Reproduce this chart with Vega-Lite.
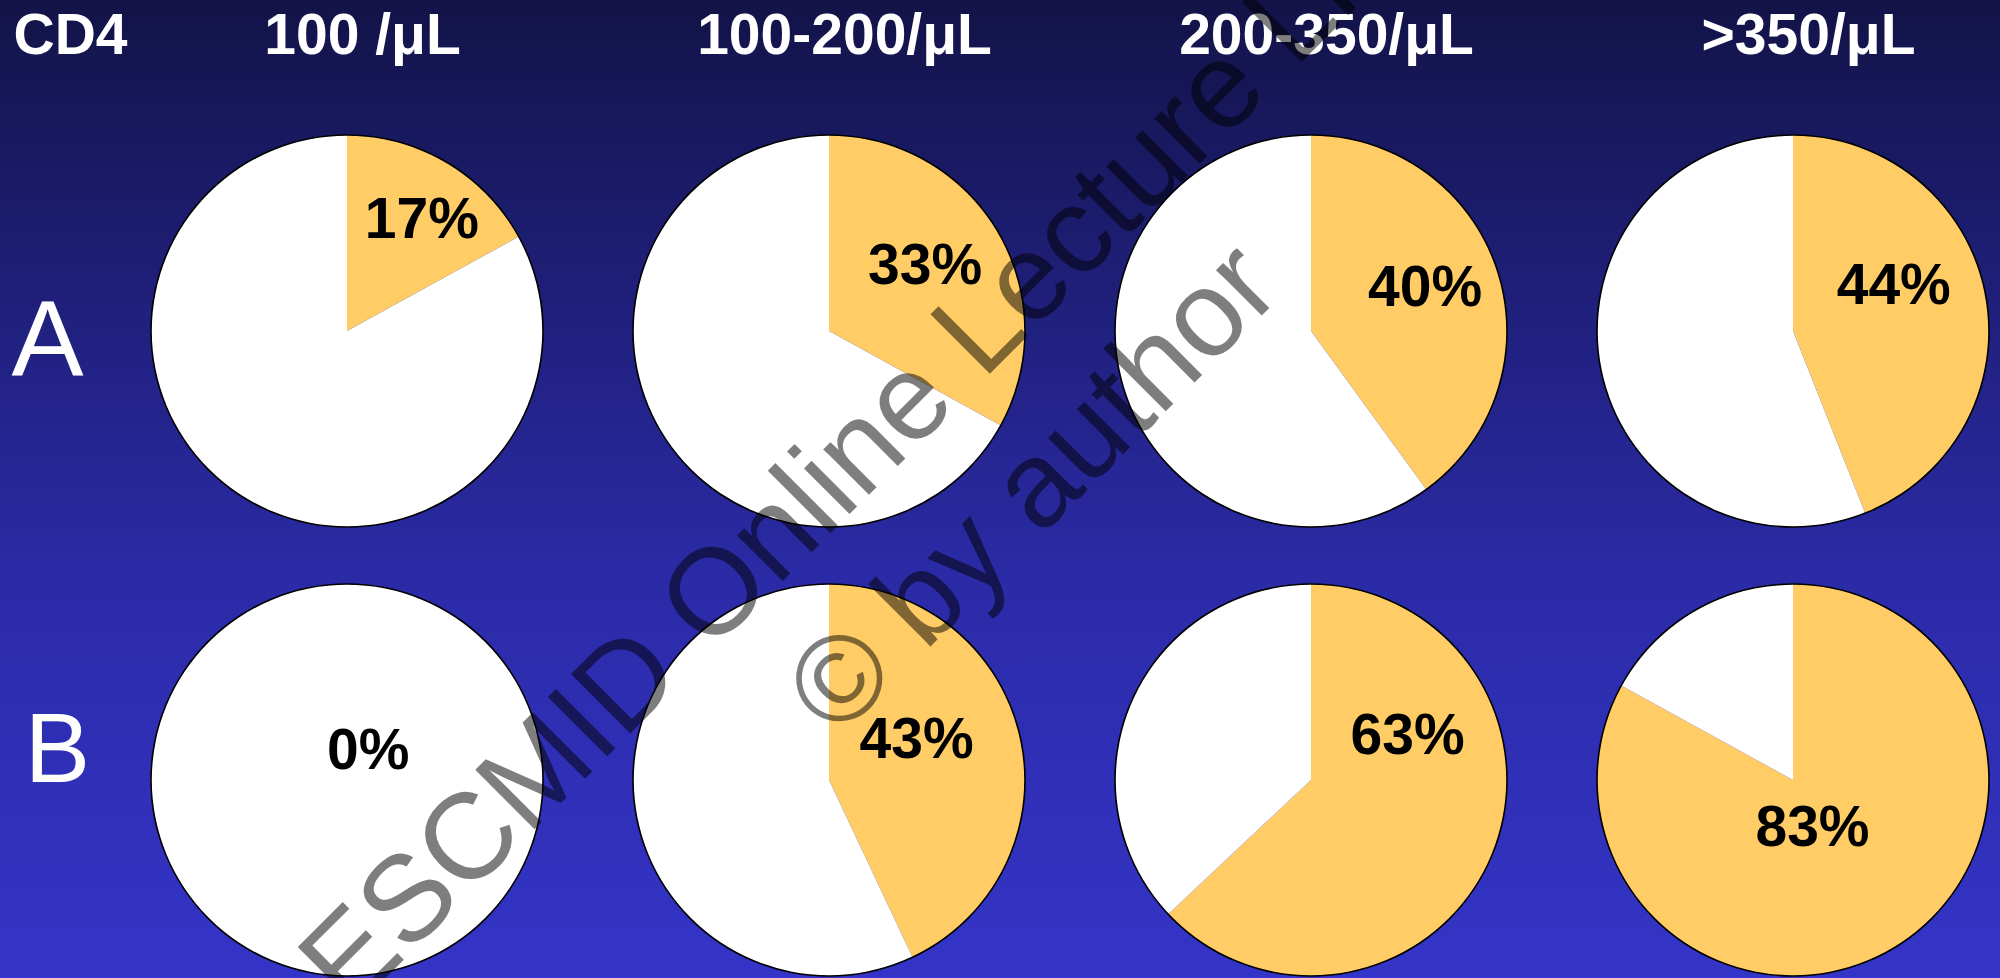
{
  "$schema": "https://vega.github.io/schema/vega-lite/v6.json",
  "width": 2000,
  "height": 978,
  "autosize": {"type": "none"},
  "padding": 0,
  "background": "#141450",
  "view": {
    "stroke": null,
    "fill": {
      "gradient": "linear", "x1": 0, "y1": 0, "x2": 0, "y2": 1,
      "stops": [
        {"offset": 0, "color": "#131348"},
        {"offset": 0.3, "color": "#1f1f7a"},
        {"offset": 0.6, "color": "#2b2ba8"},
        {"offset": 1, "color": "#3434c8"}
      ]
    }
  },
  "datasets": {
    "slices": [
      {"group": "A", "cd4": "100 /μL", "slice": "yes", "value": 17},
      {"group": "A", "cd4": "100 /μL", "slice": "no", "value": 83},
      {"group": "A", "cd4": "100-200/μL", "slice": "yes", "value": 33},
      {"group": "A", "cd4": "100-200/μL", "slice": "no", "value": 67},
      {"group": "A", "cd4": "200-350/μL", "slice": "yes", "value": 40},
      {"group": "A", "cd4": "200-350/μL", "slice": "no", "value": 60},
      {"group": "A", "cd4": ">350/μL", "slice": "yes", "value": 44},
      {"group": "A", "cd4": ">350/μL", "slice": "no", "value": 56},
      {"group": "B", "cd4": "100 /μL", "slice": "yes", "value": 0},
      {"group": "B", "cd4": "100 /μL", "slice": "no", "value": 100},
      {"group": "B", "cd4": "100-200/μL", "slice": "yes", "value": 43},
      {"group": "B", "cd4": "100-200/μL", "slice": "no", "value": 57},
      {"group": "B", "cd4": "200-350/μL", "slice": "yes", "value": 63},
      {"group": "B", "cd4": "200-350/μL", "slice": "no", "value": 37},
      {"group": "B", "cd4": ">350/μL", "slice": "yes", "value": 83},
      {"group": "B", "cd4": ">350/μL", "slice": "no", "value": 17}
    ],
    "labels": [
      {"group": "A", "cd4": "100 /μL", "pct": "17%", "label_theta": 0.095, "label_r": 0.68},
      {"group": "A", "cd4": "100-200/μL", "pct": "33%", "label_theta": 0.156, "label_r": 0.59},
      {"group": "A", "cd4": "200-350/μL", "pct": "40%", "label_theta": 0.194, "label_r": 0.62},
      {"group": "A", "cd4": ">350/μL", "pct": "44%", "label_theta": 0.185, "label_r": 0.56},
      {"group": "B", "cd4": "100 /μL", "pct": "0%", "label_theta": 0.1025, "label_r": 0.18},
      {"group": "B", "cd4": "100-200/μL", "pct": "43%", "label_theta": 0.183, "label_r": 0.49},
      {"group": "B", "cd4": "200-350/μL", "pct": "63%", "label_theta": 0.183, "label_r": 0.54},
      {"group": "B", "cd4": ">350/μL", "pct": "83%", "label_theta": 0.44, "label_r": 0.27}
    ],
    "watermark": [
      {"group": "A", "cd4": "100-200/μL", "note": "ESCMID Online Lecture Library\n© by author"}
    ]
  },
  "encoding": {
    "x": {
      "field": "cd4", "type": "nominal",
      "scale": {"type": "point", "padding": 0, "domain": ["100 /μL", "100-200/μL", "200-350/μL", ">350/μL"], "range": [347, 1793]},
      "axis": {
        "orient": "top", "offset": -53, "title": "CD4",
        "domain": false, "ticks": false, "tickSize": 0, "grid": false,
        "labelPadding": 0, "labelAngle": 0, "labelBaseline": "alphabetic", "labelAlign": "center",
        "labelOffset": 15, "labelFont": "Liberation Sans", "labelFontWeight": "bold", "labelFontSize": 57,
        "labelColor": "#FFFFFF", "labelLimit": 0, "labelOverlap": false,
        "titleX": 70, "titleY": 0, "titleAlign": "center", "titleBaseline": "alphabetic", "titleAngle": 0,
        "titleFont": "Liberation Sans", "titleFontWeight": "bold", "titleFontSize": 57, "titleColor": "#FFFFFF"
      }
    },
    "y": {
      "field": "group", "type": "nominal",
      "scale": {"type": "point", "padding": 0, "domain": ["A", "B"], "range": [331, 780]},
      "axis": {
        "orient": "left", "offset": -47, "title": null,
        "domain": false, "ticks": false, "tickSize": 0, "grid": false,
        "labelAngle": 0, "labelAlign": "center", "labelBaseline": "alphabetic",
        "labelPadding": {"condition": {"test": "datum.value === 'B'", "value": -10}, "value": 0},
        "labelOffset": {"condition": {"test": "datum.value === 'A'", "value": 44}, "value": 1},
        "labelFont": "Liberation Sans", "labelFontWeight": "normal",
        "labelFontSize": {"condition": {"test": "datum.value === 'A'", "value": 108}, "value": 98},
        "labelColor": "#FFFFFF", "labelLimit": 0
      }
    }
  },
  "layer": [
    {
      "data": {"name": "slices"},
      "transform": [
        {"stack": "value", "groupby": ["group", "cd4"], "offset": "normalize", "sort": [{"field": "slice", "order": "descending"}], "as": ["start", "end"]}
      ],
      "mark": {"type": "arc", "radius": 196},
      "encoding": {
        "theta": {"field": "start", "type": "quantitative", "stack": null, "scale": {"domain": [0, 1], "range": [0, 6.283185]}},
        "theta2": {"field": "end"},
        "color": {"field": "slice", "type": "nominal", "scale": {"domain": ["yes", "no"], "range": ["#FFCC66", "#FFFFFF"]}, "legend": null}
      }
    },
    {
      "data": {"name": "labels"},
      "mark": {"type": "arc", "radius": 196.8, "radius2": 195.2, "theta": 0, "theta2": 6.283185, "fill": "#000000", "strokeWidth": 0},
      "encoding": {}
    },
    {
      "data": {"name": "labels"},
      "mark": {"type": "text", "font": "Liberation Sans", "fontWeight": "bold", "fontSize": 57, "color": "#000000", "align": "center", "baseline": "middle"},
      "encoding": {
        "theta": {"field": "label_theta", "type": "quantitative", "stack": null, "scale": {"domain": [0, 1], "range": [0, 6.283185]}},
        "radius": {"field": "label_r", "type": "quantitative", "scale": {"type": "linear", "domain": [0, 1], "range": [0, 196], "zero": true}},
        "text": {"field": "pct", "type": "nominal"}
      }
    },
    {
      "data": {"name": "watermark"},
      "mark": {"type": "text", "font": "Liberation Sans", "fontSize": 122, "color": "#000000", "opacity": 0.5, "angle": 315, "align": "center", "baseline": "alphabetic", "dx": 33, "dy": 144, "lineBreak": "\n", "lineHeight": 151},
      "encoding": {
        "text": {"field": "note", "type": "nominal"}
      }
    }
  ]
}
